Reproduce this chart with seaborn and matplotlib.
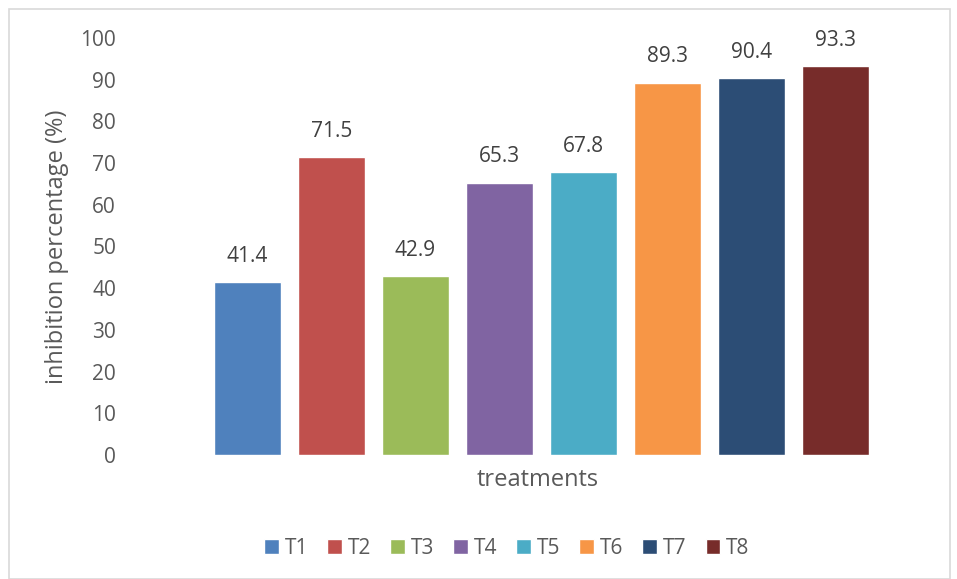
import matplotlib
matplotlib.use("Agg")
import matplotlib.pyplot as plt
import seaborn as sns
import pandas as pd
from matplotlib.patches import Rectangle, Patch

# data
treatments = ["T1", "T2", "T3", "T4", "T5", "T6", "T7", "T8"]
inhibition = [41.4, 71.5, 42.9, 65.3, 67.8, 89.3, 90.4, 93.3]
colors = ["#4F81BD", "#C0504D", "#9BBB59", "#8064A2",
          "#4BACC6", "#F79646", "#2C4D75", "#772C2A"]
yticks = [0, 10, 20, 30, 40, 50, 60, 70, 80, 90, 100]

sns.set_style("white")
plt.rcParams["font.family"] = ["Open Sans", "DejaVu Sans"]
txt = "#595959"

df = pd.DataFrame({"treatment": treatments, "value": inhibition})

W, H = 957, 579
fig = plt.figure(figsize=(W / 100, H / 100), dpi=100)
# axes placed in pixel terms: x from 130 to 945, y=0 at 455, y=100 at 38
ax = fig.add_axes([130 / W, (H - 455) / H, (945 - 130) / W, (455 - 38) / H])

sns.barplot(data=df, x="treatment", y="value", hue="treatment",
            palette=colors, width=0.8, legend=False, ax=ax, saturation=1)

# 84 px per category, first bar centre at px 247.5
ax.set_xlim(-(247.5 - 130) / 84, 7 + (945 - 835.5) / 84)
ax.set_ylim(0, 100)
ax.set_yticks(yticks)
ax.set_yticklabels([str(t) for t in yticks], color=txt, fontsize=15)
ax.tick_params(axis="y", length=0, pad=10)
ax.set_xticks([])
for s in ax.spines.values():
    s.set_visible(False)

for i, v in enumerate(inhibition):
    ax.annotate(f"{v:.1f}", (i, v), xytext=(0, 11), textcoords="offset points",
                ha="center", va="bottom", color="#404040", fontsize=15)

ax.set_ylabel("inhibition percentage (%)", color=txt, fontsize=17, labelpad=8)
ax.set_xlabel("treatments", color=txt, fontsize=17, labelpad=9)

handles = [Patch(facecolor=c, label=t) for c, t in zip(colors, treatments)]
fig.legend(handles=handles, loc="center", bbox_to_anchor=(507 / W, 1 - 548 / H),
           ncol=8, frameon=False, fontsize=15, handlelength=0.7, handleheight=0.7,
           handletextpad=0.3, columnspacing=0.9, labelcolor=txt)

# light grey chart border
fig.patches.append(Rectangle((9 / W, 0), (950 - 9) / W, 1 - 9 / H,
                             transform=fig.transFigure, fill=False,
                             edgecolor="#D9D9D9", linewidth=1.2))

fig.savefig("out.png", dpi=100)
